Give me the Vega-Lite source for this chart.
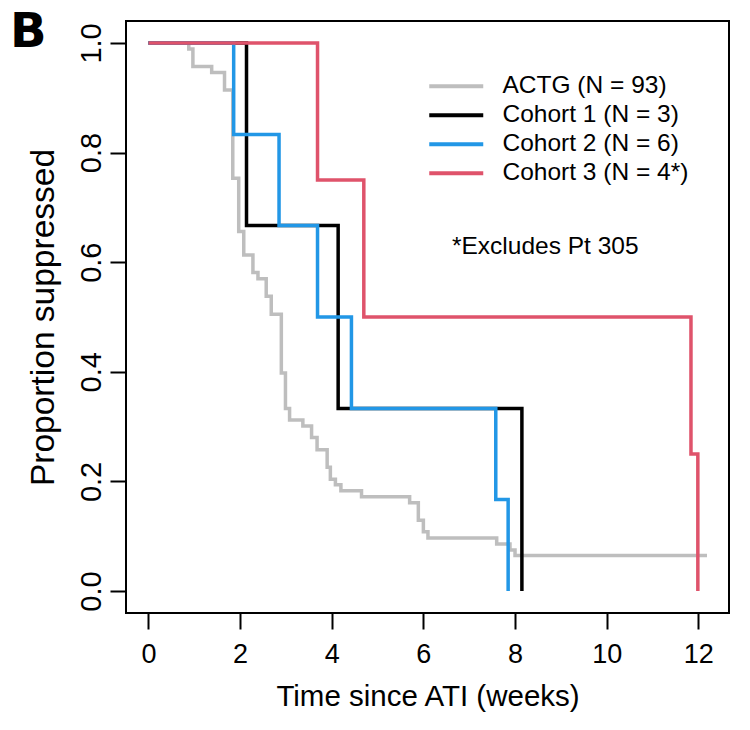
{
  "$schema": "https://vega.github.io/schema/vega-lite/v6.json",
  "width": 603,
  "height": 592,
  "autosize": {"type": "none"},
  "padding": {"left": 126, "top": 21, "right": 21, "bottom": 117},
  "background": "white",
  "title": {
    "text": "B",
    "anchor": "start",
    "frame": "group",
    "orient": "top",
    "baseline": "alphabetic",
    "offset": 0,
    "dx": -116,
    "dy": 74,
    "font": "DejaVu Sans",
    "fontWeight": "bold",
    "fontSize": 48,
    "color": "black"
  },
  "config": {
    "view": {"stroke": "black", "strokeWidth": 2},
    "font": "Liberation Sans",
    "axis": {
      "grid": false,
      "domain": false,
      "ticks": true,
      "tickColor": "black",
      "tickWidth": 2,
      "tickSize": 16,
      "labelColor": "black",
      "titleColor": "black",
      "labelFont": "Liberation Sans",
      "titleFont": "Liberation Sans",
      "titleFontWeight": "normal"
    }
  },
  "layer": [
    {
      "data": {
        "values": [
          {"g": "ACTG (N = 93)", "t": 0, "s": 1},
          {"g": "ACTG (N = 93)", "t": 0.88, "s": 0.989},
          {"g": "ACTG (N = 93)", "t": 0.97, "s": 0.957},
          {"g": "ACTG (N = 93)", "t": 1.38, "s": 0.946},
          {"g": "ACTG (N = 93)", "t": 1.66, "s": 0.914},
          {"g": "ACTG (N = 93)", "t": 1.84, "s": 0.753},
          {"g": "ACTG (N = 93)", "t": 1.97, "s": 0.656},
          {"g": "ACTG (N = 93)", "t": 2.08, "s": 0.613},
          {"g": "ACTG (N = 93)", "t": 2.28, "s": 0.581},
          {"g": "ACTG (N = 93)", "t": 2.39, "s": 0.57},
          {"g": "ACTG (N = 93)", "t": 2.57, "s": 0.538},
          {"g": "ACTG (N = 93)", "t": 2.68, "s": 0.505},
          {"g": "ACTG (N = 93)", "t": 2.9, "s": 0.398},
          {"g": "ACTG (N = 93)", "t": 2.99, "s": 0.333},
          {"g": "ACTG (N = 93)", "t": 3.08, "s": 0.312},
          {"g": "ACTG (N = 93)", "t": 3.37, "s": 0.301},
          {"g": "ACTG (N = 93)", "t": 3.56, "s": 0.28},
          {"g": "ACTG (N = 93)", "t": 3.68, "s": 0.258},
          {"g": "ACTG (N = 93)", "t": 3.9, "s": 0.226},
          {"g": "ACTG (N = 93)", "t": 3.97, "s": 0.204},
          {"g": "ACTG (N = 93)", "t": 4.08, "s": 0.194},
          {"g": "ACTG (N = 93)", "t": 4.2, "s": 0.183},
          {"g": "ACTG (N = 93)", "t": 4.65, "s": 0.172},
          {"g": "ACTG (N = 93)", "t": 5.7, "s": 0.161},
          {"g": "ACTG (N = 93)", "t": 5.89, "s": 0.129},
          {"g": "ACTG (N = 93)", "t": 6.0, "s": 0.108},
          {"g": "ACTG (N = 93)", "t": 6.1, "s": 0.097},
          {"g": "ACTG (N = 93)", "t": 7.6, "s": 0.086},
          {"g": "ACTG (N = 93)", "t": 7.89, "s": 0.075},
          {"g": "ACTG (N = 93)", "t": 8.0, "s": 0.065},
          {"g": "ACTG (N = 93)", "t": 12.19, "s": 0.065},
          {"g": "Cohort 1 (N = 3)", "t": 0, "s": 1},
          {"g": "Cohort 1 (N = 3)", "t": 2.14, "s": 0.667},
          {"g": "Cohort 1 (N = 3)", "t": 4.14, "s": 0.333},
          {"g": "Cohort 1 (N = 3)", "t": 8.15, "s": 0},
          {"g": "Cohort 2 (N = 6)", "t": 0, "s": 1},
          {"g": "Cohort 2 (N = 6)", "t": 1.86, "s": 0.833},
          {"g": "Cohort 2 (N = 6)", "t": 2.85, "s": 0.667},
          {"g": "Cohort 2 (N = 6)", "t": 3.69, "s": 0.5},
          {"g": "Cohort 2 (N = 6)", "t": 4.43, "s": 0.333},
          {"g": "Cohort 2 (N = 6)", "t": 7.58, "s": 0.167},
          {"g": "Cohort 2 (N = 6)", "t": 7.85, "s": 0},
          {"g": "Cohort 3 (N = 4*)", "t": 0, "s": 1},
          {"g": "Cohort 3 (N = 4*)", "t": 3.69, "s": 0.75},
          {"g": "Cohort 3 (N = 4*)", "t": 4.7, "s": 0.5},
          {"g": "Cohort 3 (N = 4*)", "t": 11.84, "s": 0.25},
          {"g": "Cohort 3 (N = 4*)", "t": 11.99, "s": 0}
        ]
      },
      "mark": {"type": "line", "interpolate": "step-after", "strokeWidth": 3.5, "strokeCap": "butt", "strokeJoin": "miter"},
      "encoding": {
        "x": {
          "field": "t",
          "type": "quantitative",
          "scale": {"domain": [-0.49, 12.67], "nice": false, "zero": false},
          "axis": {
            "title": "Time since ATI (weeks)",
            "values": [0, 2, 4, 6, 8, 10, 12],
            "labelFontSize": 27,
            "labelPadding": 12,
            "titleFontSize": 29.5,
            "titleBaseline": "alphabetic",
            "titleY": 92
          }
        },
        "y": {
          "field": "s",
          "type": "quantitative",
          "scale": {"domain": [-0.04, 1.04], "nice": false, "zero": false},
          "axis": {
            "title": "Proportion suppressed",
            "values": [0, 0.2, 0.4, 0.6, 0.8, 1.0],
            "format": ".1f",
            "labelAngle": -90,
            "labelAlign": "center",
            "labelBaseline": "alphabetic",
            "labelFontSize": 29,
            "labelPadding": 10,
            "titleFontSize": 33.5,
            "titleAngle": -90,
            "titleBaseline": "alphabetic",
            "titleX": -73
          }
        },
        "color": {
          "field": "g",
          "type": "nominal",
          "scale": {
            "domain": ["ACTG (N = 93)", "Cohort 1 (N = 3)", "Cohort 2 (N = 6)", "Cohort 3 (N = 4*)"],
            "range": ["#BEBEBE", "#000000", "#2297E6", "#DF536B"]
          },
          "legend": {
            "title": null,
            "orient": "none",
            "legendX": 318,
            "legendY": 53,
            "padding": 0,
            "symbolType": "M-3,0H3",
            "symbolSize": 324,
            "symbolStrokeWidth": 4,
            "symbolFillColor": "transparent",
            "labelFontSize": 24.5,
            "labelFont": "Liberation Sans",
            "labelColor": "black",
            "labelOffset": 34,
            "labelLimit": 400,
            "rowPadding": 4
          }
        }
      }
    },
    {
      "data": {"values": [{"note": "*Excludes Pt 305"}]},
      "mark": {"type": "text", "fontSize": 24.5, "font": "Liberation Sans", "color": "black", "align": "center", "baseline": "middle"},
      "encoding": {
        "x": {"datum": 8.66, "type": "quantitative"},
        "y": {"datum": 0.628, "type": "quantitative"},
        "text": {"field": "note"}
      }
    }
  ]
}
